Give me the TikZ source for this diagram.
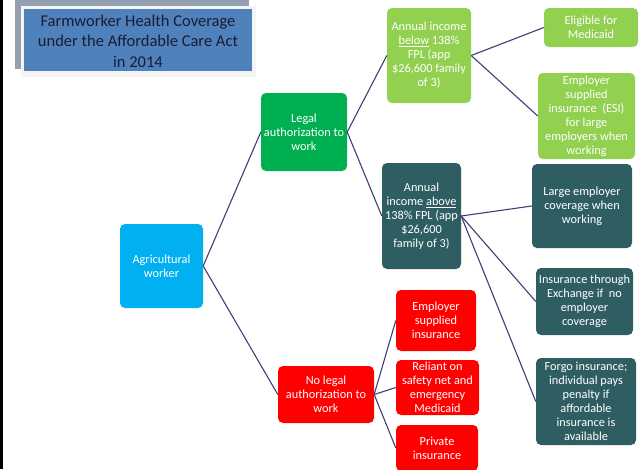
\documentclass[tikz,border=0pt]{standalone}
\usepackage{fontspec}
\setmainfont{Carlito}
\usetikzlibrary{positioning}

\definecolor{aqua}{RGB}{0,176,240}
\definecolor{legalgreen}{RGB}{0,176,80}
\definecolor{lightgreen}{RGB}{146,208,80}
\definecolor{darkteal}{RGB}{47,94,98}
\definecolor{brightred}{RGB}{255,0,0}
\definecolor{linkblue}{RGB}{62,62,122}
\definecolor{titleblue}{RGB}{79,129,189}
\definecolor{titlegray}{RGB}{146,160,176}
\definecolor{titletext}{RGB}{28,28,48}

\begin{document}
\begin{tikzpicture}[x=1pt, y=-1pt,
    box/.style={rounded corners=5pt, text=white, align=center,
        font=\fontsize{12.3}{14}\selectfont, inner sep=1pt},
    link/.style={draw=linkblue, line width=1.1pt}]
    \useasboundingbox (0,0) rectangle (640,469);

    % title banner
    \fill[titlegray] (15,0) rectangle (249,69);
    \fill[gray!8] (21,6) rectangle (256,77);
    \fill[titleblue] (24,9) rectangle (252,71);
    \node[text=titletext, align=center, font=\fontsize{16.5}{20.5}\selectfont] (title) at (138,41)
        {Farmworker Health Coverage\\under the Affordable Care Act\\in 2014};
    \draw[line width=3pt] (1.5,0) -- (1.5,469);

    % boxes
    \node[box, fill=aqua, minimum width=83, minimum height=84] (agri) at (161.5,266) {Agricultural\\worker};
    \node[box, fill=legalgreen, minimum width=86, minimum height=78] (legal) at (304,132) {Legal\\authorization to\\work};
    \node[box, fill=brightred, minimum width=96, minimum height=57] (nolegal) at (326,394.5) {No legal\\authorization to\\work};

    \node[box, fill=lightgreen, minimum width=84, minimum height=95] (below) at (429,55.5)
        {Annual income\\\underline{below} 138\%\\FPL (app\\\$26,600 family\\of 3)};
    \node[box, fill=lightgreen, minimum width=94, minimum height=39] (medicaid) at (591,27.5) {Eligible for\\Medicaid};
    \node[box, fill=lightgreen, minimum width=97, minimum height=86] (esi) at (586.5,116)
        {Employer\\supplied\\insurance~ (ESI)\\for large\\employers when\\working};

    \node[box, fill=darkteal, minimum width=79, minimum height=106] (above) at (421.5,216)
        {Annual\\income \underline{above}\\138\% FPL (app\\\$26,600\\family of 3)};
    \node[box, fill=darkteal, minimum width=100, minimum height=84] (large) at (582,206) {Large employer\\coverage when\\working};
    \node[box, fill=darkteal, minimum width=97, minimum height=67] (exchange) at (584.5,301.5)
        {Insurance through\\Exchange if~ no\\employer\\coverage};
    \node[box, fill=darkteal, minimum width=100, minimum height=87] (forgo) at (586,401.5)
        {Forgo insurance;\\individual pays\\penalty if\\affordable\\insurance is\\available};

    \node[box, fill=brightred, minimum width=80, minimum height=61] (employer) at (436,320.5) {Employer\\supplied\\insurance};
    \node[box, fill=brightred, minimum width=83, minimum height=55] (reliant) at (437.5,387.5)
        {Reliant on\\safety net and\\emergency\\Medicaid};
    \node[box, fill=brightred, minimum width=82, minimum height=46] (private) at (437,448) {Private\\insurance};

    % connectors
    \draw[link] (agri.east) -- (legal.west);
    \draw[link] (agri.east) -- (nolegal.west);
    \draw[link] (legal.east) -- (below.west);
    \draw[link] (legal.east) -- (above.west);
    \draw[link] (below.east) -- (medicaid.west);
    \draw[link] (below.east) -- (esi.west);
    \draw[link] (above.east) -- (large.west);
    \draw[link] (above.east) -- (exchange.west);
    \draw[link] (above.east) -- (forgo.west);
    \draw[link] (nolegal.east) -- (employer.west);
    \draw[link] (nolegal.east) -- (reliant.west);
    \draw[link] (nolegal.east) -- (private.west);
\end{tikzpicture}
\end{document}
